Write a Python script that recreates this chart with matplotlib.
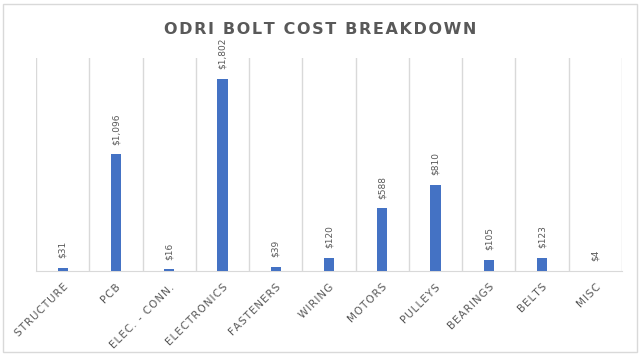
import numpy as np
import matplotlib.pyplot as plt
from matplotlib.patches import Rectangle

# cost categories and values (USD)
categories = ["STRUCTURE", "PCB", "ELEC. - CONN.", "ELECTRONICS", "FASTENERS",
              "WIRING", "MOTORS", "PULLEYS", "BEARINGS", "BELTS", "MISC"]
costs = [31, 1096, 16, 1802, 39, 120, 588, 810, 105, 123, 4]
labels = ["$31", "$1,096", "$16", "$1,802", "$39", "$120", "$588", "$810",
          "$105", "$123", "$4"]

grey = "#595959"
hair = "\u200a"


def spaced(s):
    # crude letter spacing
    return hair.join(s)


fig = plt.figure(figsize=(6.41, 3.56), dpi=100)
ax = fig.add_axes([36/641, (356-271)/356, 586/641, 213/356])

x = np.arange(len(categories))
ax.bar(x, costs, width=0.19, color="#4472C4", zorder=3)
ax.set_xlim(-0.5, len(categories) - 0.5)
ax.set_ylim(0, 2000)

# vertical lines between categories
for b in np.arange(-0.5, len(categories), 1.0):
    ax.axvline(b, color="#D9D9D9", lw=1, zorder=1)

for xi, v, lab in zip(x, costs, labels):
    ax.annotate(lab, (xi, v), xytext=(0, 7), textcoords="offset points",
                rotation=90, ha="center", va="bottom", fontsize=6.5, color=grey)

for s in ["top", "left", "right"]:
    ax.spines[s].set_visible(False)
ax.spines["bottom"].set_color("#D9D9D9")
ax.set_yticks([])
ax.set_xticks(x)
ax.set_xticklabels([spaced(c) for c in categories], rotation=45, ha="right",
                   rotation_mode="anchor", fontsize=7.5, color=grey)
ax.tick_params(axis="x", length=0, pad=8)

fig.text(0.5, 1 - 30/356, spaced("ODRI BOLT COST BREAKDOWN"),
         ha="center", va="center", fontsize=11.5, fontweight="bold", color=grey)

fig.patches.append(Rectangle((3/641, 4/356), 634/641, 348/356, transform=fig.transFigure,
                             fill=False, edgecolor="#D9D9D9", lw=1))

fig.savefig("out.png", dpi=100)
